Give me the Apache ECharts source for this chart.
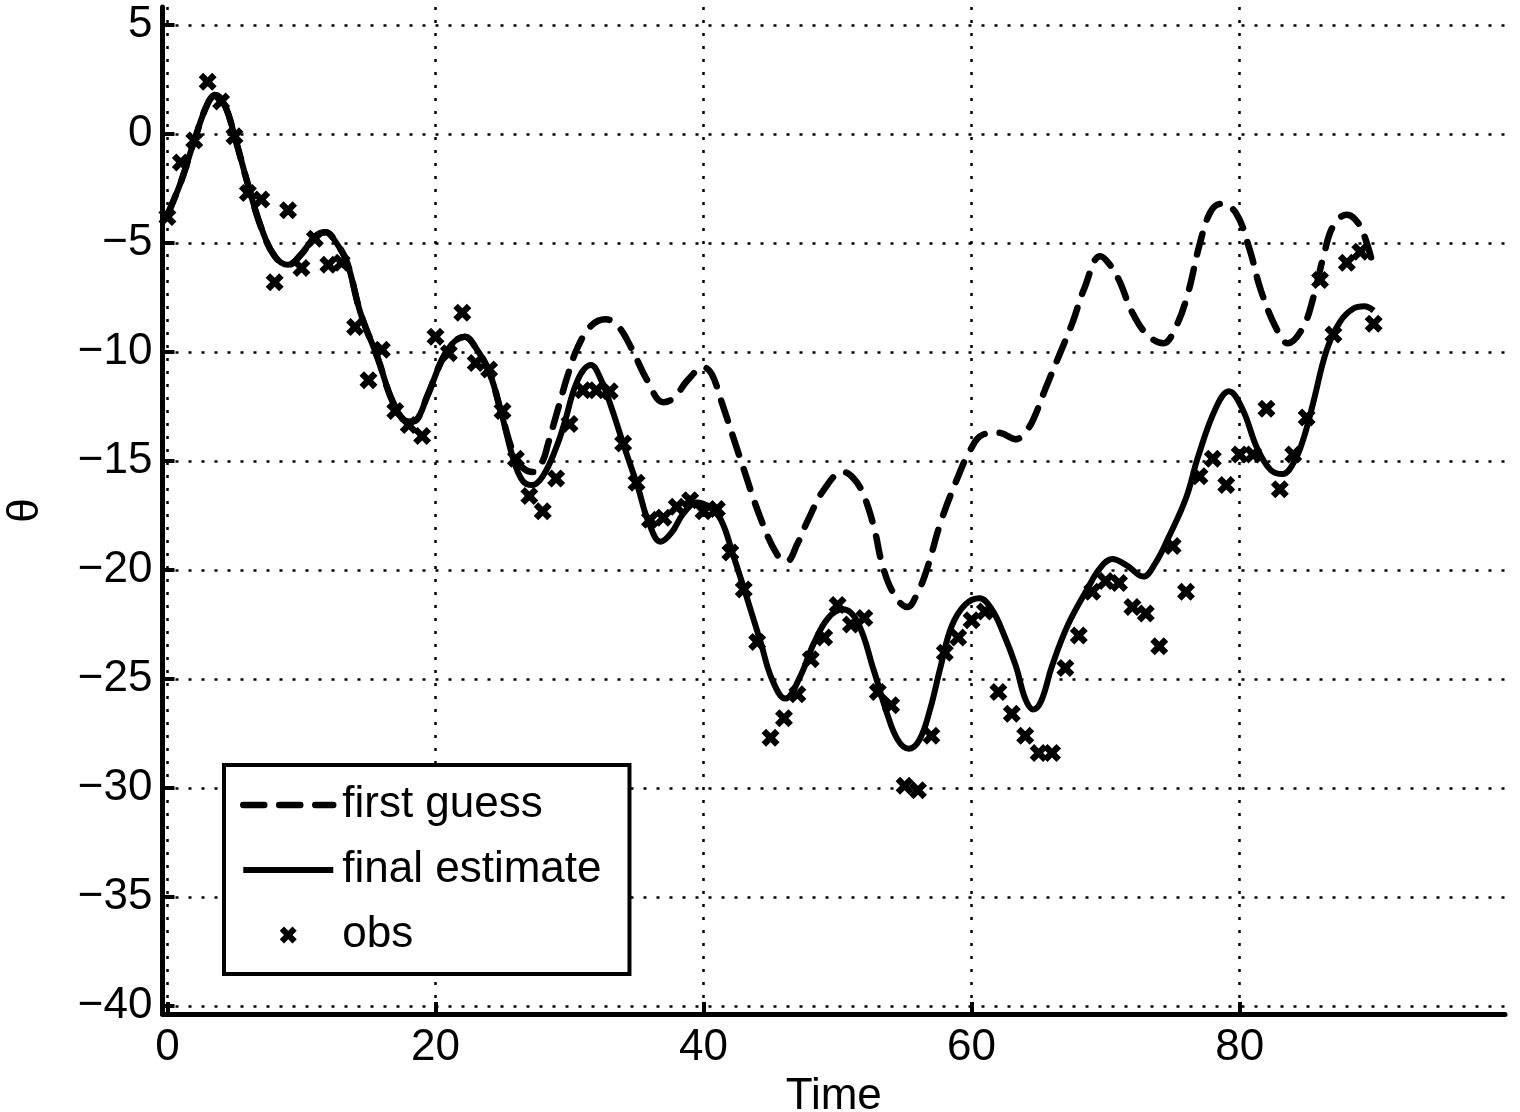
<!DOCTYPE html>
<html>
<head>
<meta charset="utf-8">
<script src="https://cdn.jsdelivr.net/npm/echarts@6/dist/echarts.min.js"></script>
<style>
html, body { margin: 0; padding: 0; background: #fff; }
#chart { width: 1520px; height: 1112px; }
</style>
</head>
<body>
<div id="chart"></div>
<script>
// first guess and final estimate lie on top of each other up to t = 25
const commonStart = [
  [0, -3.7], [1, -2.2], [2, -0.3], [3, 1.4], [3.6, 1.8], [4.3, 1.3], [5.1, -0.3], [6, -2.3],
  [7, -4.3], [8, -5.6], [9, -6.0], [10, -5.5], [11, -4.7], [11.8, -4.5], [12.5, -4.9],
  [13.4, -5.9], [14.4, -8.2], [15.7, -10.3], [16.9, -12.4], [18, -13.2], [18.6, -13.1],
  [19.4, -12.0], [20.9, -9.9], [22.2, -9.3], [23, -9.8], [24, -10.9], [25, -13.0]
]

const finalTail = [
  [25.8, -14.9], [26.5, -15.9], [27.2, -16.1], [28, -15.7], [29, -14.4], [29.6, -13.3],
  [30.6, -11.3], [31.6, -10.6], [32.3, -11.2], [33.1, -12.5], [34, -14.2], [35.1, -16.2],
  [35.9, -17.8], [36.8, -18.7], [37.6, -18.3], [38.5, -17.4], [39.5, -16.9], [40.4, -17.1],
  [41.3, -17.7], [42.2, -19.3], [43.3, -21.4], [44.3, -23.4], [45.1, -25.0], [46.1, -25.9],
  [47.2, -24.9], [48.2, -23.4], [49.3, -22.2], [50.4, -21.8], [51.5, -22.4], [52.7, -24.6],
  [53.7, -26.6], [54.5, -27.8], [55.3, -28.2], [56.1, -27.8], [56.9, -26.4], [57.7, -24.4],
  [58.5, -22.6], [59.5, -21.6], [60.6, -21.3], [61.5, -21.8], [62.3, -22.8], [63.3, -24.4],
  [64, -25.9], [64.6, -26.4], [65.2, -26.0], [66, -24.4], [67.2, -22.5], [68.7, -20.8],
  [69.6, -19.9], [70.5, -19.5], [71.6, -19.8], [72.8, -20.3], [73.7, -19.7], [74.7, -18.5],
  [76, -16.7], [76.9, -14.8], [78.2, -12.6], [79.2, -11.8], [80.2, -12.6], [81.3, -14.4],
  [82.3, -15.4], [83.2, -15.6], [84.1, -15.0], [84.8, -13.9], [85.5, -12.3], [86.5, -9.9],
  [87.5, -8.6], [88.5, -8.0], [89.3, -7.9], [90, -8.1]
]

const guessTail = [
  [25.8, -14.6], [26.5, -15.3], [27.3, -15.5], [28, -15.0], [28.4, -14.2], [29.1, -12.7],
  [29.9, -11.0], [30.6, -9.8], [31.6, -8.8], [32.7, -8.5], [33.6, -8.8], [34.6, -9.8],
  [35.8, -11.3], [37, -12.3], [37.8, -12.1], [38.8, -11.3], [40, -10.7], [40.6, -11.0],
  [41.3, -12.2], [42.8, -15.0], [44.3, -17.7], [45.5, -19.3], [46.2, -19.6], [47, -18.8],
  [47.8, -17.7], [49, -16.3], [50.4, -15.5], [51.2, -15.8], [51.9, -16.5], [52.7, -18.0],
  [53.4, -19.9], [54.3, -21.2], [55.2, -21.7], [56, -21.0], [56.7, -19.9], [57.7, -17.8],
  [59, -15.7], [59.9, -14.5], [60.8, -13.8], [62, -13.7], [63.3, -14.0], [64.1, -13.6],
  [64.6, -13.1], [65.5, -11.7], [66.5, -10.2], [67.5, -8.7], [68.4, -7.1], [69.6, -5.6],
  [70.2, -5.9], [71, -6.7], [72, -8.2], [73.1, -9.2], [74.3, -9.6], [75.2, -8.9],
  [76.1, -7.4], [77, -5.1], [77.8, -3.6], [78.6, -3.2], [79.7, -3.6], [80.7, -5.2],
  [81.6, -7.2], [82.8, -9.0], [83.6, -9.6], [84.7, -8.9], [85.5, -7.5], [86.3, -5.5],
  [87, -4.2], [88, -3.7], [88.6, -3.9], [89.2, -4.5], [90, -6.1]
]

// observations, one per time step t = 0..90
const obsValues = [
  -3.8, -1.3, -0.3, 2.4, 1.5, -0.1, -2.7, -3.0, -6.8, -3.5,
  -6.15, -4.8, -6.0, -5.9, -8.85, -11.3, -9.9, -12.7, -13.35, -13.85,
  -9.3, -10.05, -8.2, -10.5, -10.8, -12.7, -14.9, -16.6, -17.3, -15.8,
  -13.3, -11.75, -11.75, -11.8, -14.2, -16.0, -17.7, -17.6, -17.1, -16.8,
  -17.3, -17.2, -19.2, -20.9, -23.3, -27.7, -26.8, -25.7, -24.1, -23.1,
  -21.6, -22.5, -22.2, -25.6, -26.2, -29.9, -30.1, -27.6, -23.8, -23.1,
  -22.3, -21.9, -25.6, -26.6, -27.6, -28.4, -28.4, -24.5, -23.0, -21.0,
  -20.5, -20.6, -21.7, -22.0, -23.5, -18.9, -21.0, -15.7, -14.9, -16.1,
  -14.7, -14.7, -12.6, -16.3, -14.7, -13.0, -6.7, -9.2, -5.9, -5.4,
  -8.7
]

const xTicks = [0, 20, 40, 60, 80]
const yTicks = [-40, -35, -30, -25, -20, -15, -10, -5, 0, 5]

const firstGuess = commonStart.concat(guessTail)
const finalEstimate = commonStart.concat(finalTail)
const obs = obsValues.map((v, i) => [i, v])

const FONT = '"Liberation Sans", Arial, Helvetica, sans-serif'
const minus = (v) => String(v).replace('-', '\u2212')
const xMark = 'path://M0,2.5 L2.5,0 L5,2.5 L7.5,0 L10,2.5 L7.5,5 L10,7.5 L7.5,10 L5,7.5 L2.5,10 L0,7.5 L2.5,5 Z'
// legend entries for the lines: hide the dot that ECharts puts in the middle
const noDot = { color: 'rgba(0,0,0,0)', borderWidth: 0, opacity: 0 }

const chart = echarts.init(document.getElementById('chart'))

const axisCommon = {
  type: 'value',
  nameLocation: 'middle',
  nameTextStyle: { fontSize: 44, color: '#000', fontFamily: FONT },
  axisLine: { show: true, onZero: false, lineStyle: { color: '#000', width: 5 } },
  splitLine: { show: true, lineStyle: { color: '#000', width: 2.5, type: [3, 10] } }
}

chart.setOption({
  animation: false,
  backgroundColor: '#fff',
  textStyle: { fontFamily: FONT },
  grid: { left: 162.5, right: 15, top: 7, bottom: 98, outerBoundsMode: 'none', containLabel: false },
  xAxis: {
    ...axisCommon,
    min: -0.37,
    max: 99.8,
    name: 'Time',
    nameGap: 53,
    axisTick: { show: true, inside: true, length: 12, customValues: xTicks, lineStyle: { color: '#000', width: 4 } },
    axisLabel: { customValues: xTicks, fontSize: 44, color: '#000', margin: 12, fontFamily: FONT, formatter: minus }
  },
  yAxis: {
    ...axisCommon,
    min: -40.37,
    max: 5.83,
    name: 'θ',
    nameGap: 115,
    nameRotate: 90,
    axisTick: { show: true, inside: true, length: 12, customValues: yTicks, lineStyle: { color: '#000', width: 4 } },
    axisLabel: { customValues: yTicks, fontSize: 44, color: '#000', margin: 10, fontFamily: FONT, formatter: minus }
  },
  legend: {
    left: 224,
    top: 765,
    orient: 'vertical',
    selectedMode: false,
    data: [
      { name: 'first guess', lineStyle: { width: 6.5 }, itemStyle: noDot },
      { name: 'final estimate', lineStyle: { width: 6 }, itemStyle: noDot },
      { name: 'obs' }
    ],
    itemWidth: 90,
    itemHeight: 17,
    itemGap: 19,
    padding: [17, 28, 16, 16],
    borderColor: '#000',
    borderWidth: 4,
    backgroundColor: '#fff',
    textStyle: { fontSize: 44, color: '#000', lineHeight: 46, padding: [0, 0, 0, 4], fontFamily: FONT }
  },
  series: [
    {
      name: 'first guess',
      type: 'line',
      data: firstGuess,
      smooth: 0.4,
      symbol: 'none',
      lineStyle: { color: '#000', width: 6.5, type: [21, 15], cap: 'round' },
      itemStyle: { color: '#000' },
      z: 3
    },
    {
      name: 'final estimate',
      type: 'line',
      data: finalEstimate,
      smooth: 0.4,
      symbol: 'none',
      lineStyle: { color: '#000', width: 6 },
      itemStyle: { color: '#000' },
      z: 4
    },
    {
      name: 'obs',
      type: 'scatter',
      data: obs,
      symbol: xMark,
      symbolSize: 18,
      symbolKeepAspect: true,
      itemStyle: { color: '#000', opacity: 1 },
      z: 5
    }
  ]
})
</script>
</body>
</html>
